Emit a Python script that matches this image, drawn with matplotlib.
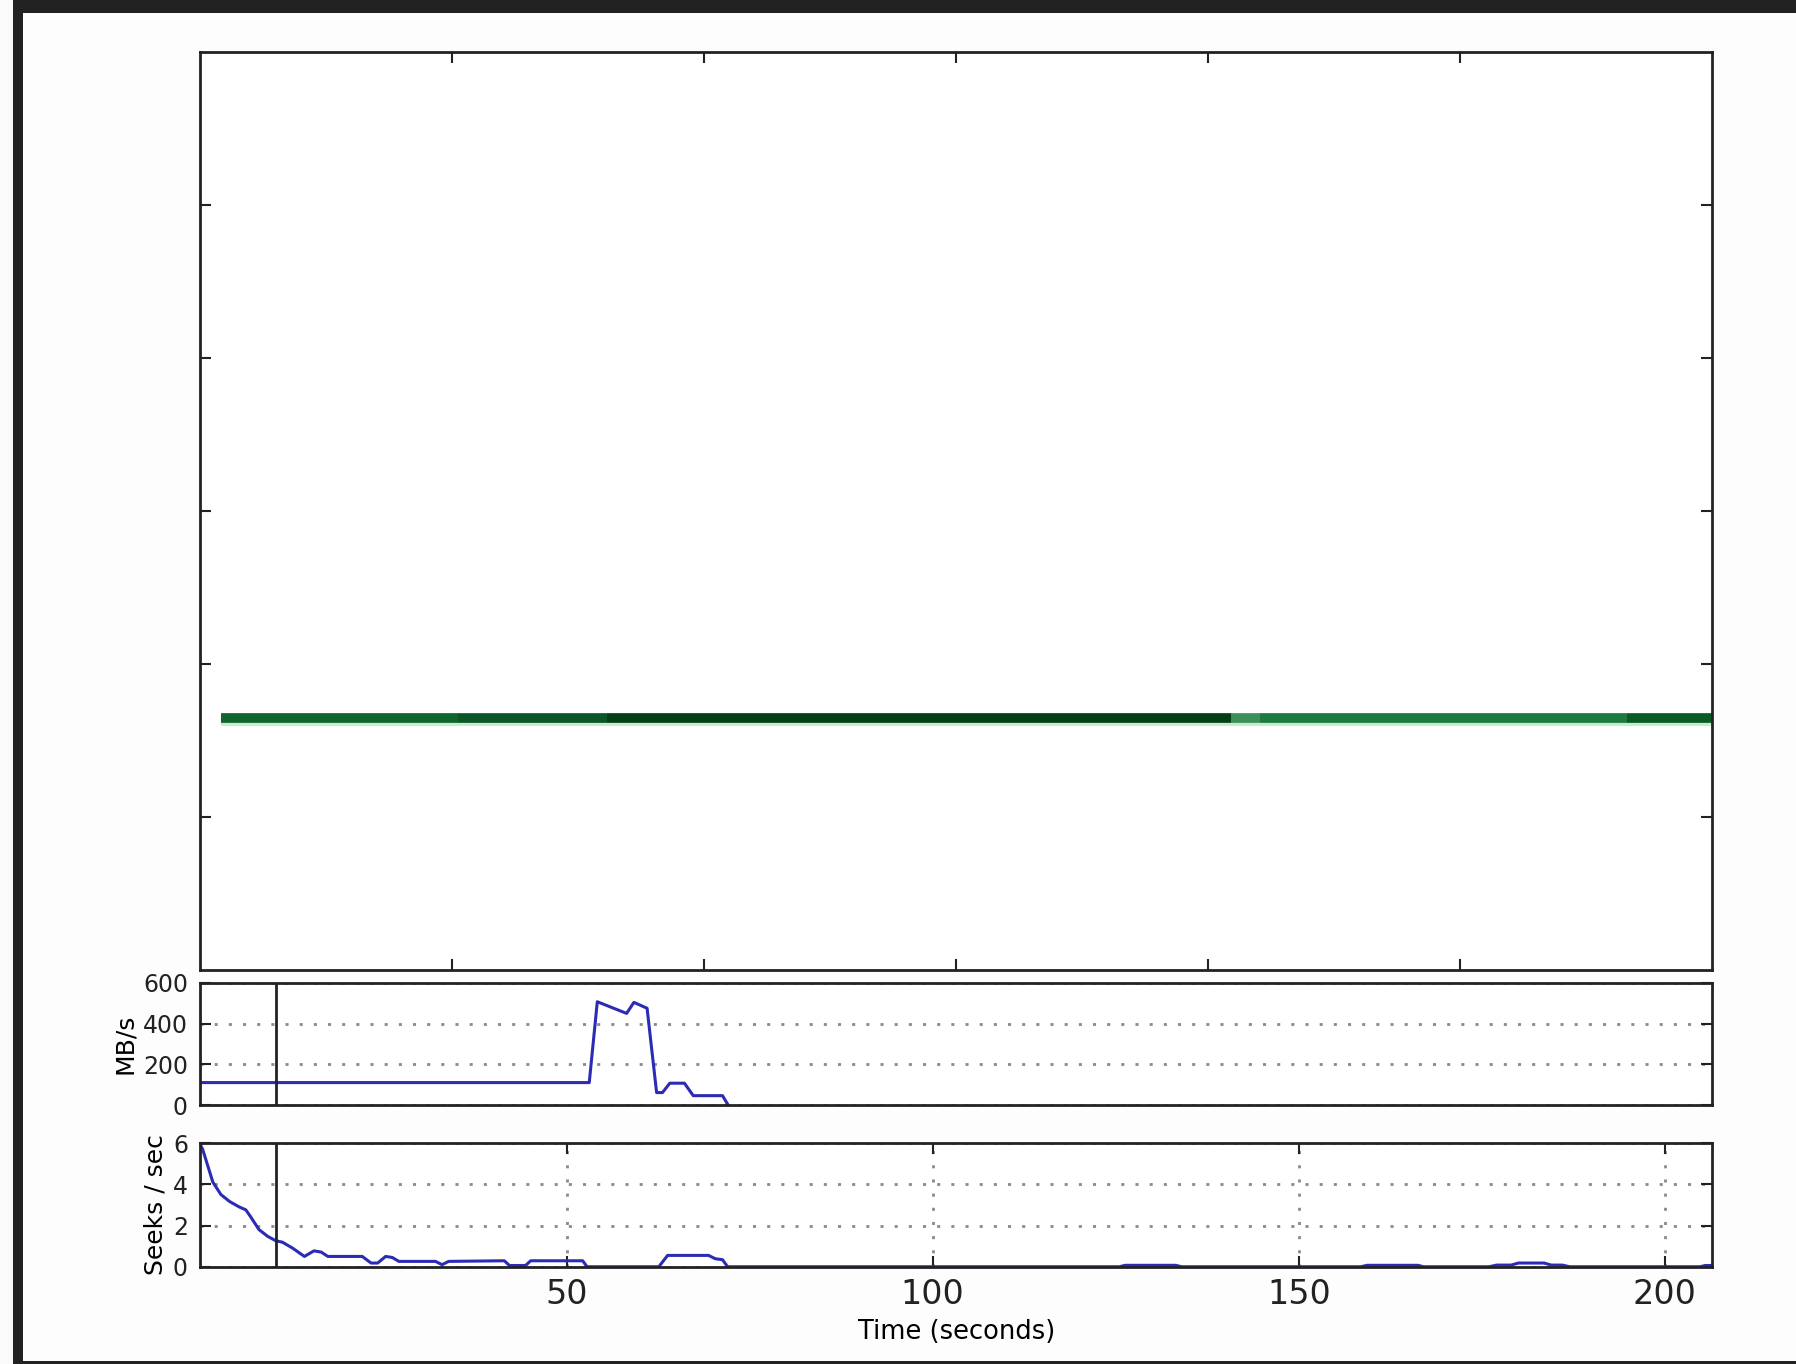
import matplotlib
matplotlib.use("Agg")
import matplotlib.pyplot as plt
from matplotlib.patches import Rectangle

# upper panel: one horizontal trace, coloured in pieces
green_level = 1.645
green_edges = [0.082, 1.023, 1.614, 4.091, 4.205, 5.659, 6.0]
green_colors = ['#10652f', '#0c5526', '#053d18', '#3d8f5a', '#1c7a3e', '#0b5a26']

# throughput (MB/s)
mb_t = [0, 53.1, 54.2, 58.2, 59.2, 61.0, 62.3, 63.1, 64.1, 66.1, 67.3, 71.3, 72.0]
mb_v = [111, 111, 507, 450, 504, 475, 62, 62, 108, 108, 47, 47, 5]

# seeks per second
seek_t = [0, 0.3, 1.7, 2.8, 4.0, 5.3, 6.2, 6.9, 8.0, 9.2, 10.3, 11.2, 12.6, 14.2,
          15.5, 16.5, 17.4, 22.1, 23.3, 24.2, 25.3, 26.2, 27.1, 32.1, 33.0, 33.9,
          41.5, 42.2, 44.4, 45.1, 52.2, 52.8, 62.6, 63.8, 69.4, 70.3, 71.3, 72.0,
          125.5, 126.3, 133.2, 134.0, 158.5, 159.3, 166.3, 167.0, 176.0, 177.0,
          179.0, 180.0, 183.5, 184.5, 186.0, 187.0, 204.8, 205.5, 206.5]
seek_v = [5.9, 5.7, 4.1, 3.5, 3.16, 2.9, 2.76, 2.4, 1.8, 1.47, 1.26, 1.19, 0.9, 0.5,
          0.77, 0.71, 0.5, 0.5, 0.18, 0.18, 0.5, 0.45, 0.26, 0.26, 0.1, 0.26,
          0.29, 0.06, 0.06, 0.29, 0.29, 0.0, 0.0, 0.55, 0.55, 0.39, 0.34, 0.0,
          0.0, 0.07, 0.07, 0.0, 0.0, 0.07, 0.07, 0.0, 0.0, 0.08,
          0.08, 0.18, 0.18, 0.08, 0.08, 0.0, 0.0, 0.06, 0.06]

cursor_t = 10.3
time_ticks = [50, 100, 150, 200]
mb_ticks = [0, 200, 400, 600]
seek_ticks = [0, 2, 4, 6]

W, H = 1796, 1364
fig = plt.figure(figsize=(W / 100, H / 100), dpi=100)
fig.patch.set_facecolor('#fafafa')

# screenshot frame
fig.add_artist(Rectangle((13 / W, 0), 1, 1, transform=fig.transFigure,
                         facecolor='#222222', edgecolor='none', zorder=-3))
fig.add_artist(Rectangle((23 / W, 3 / H), 1, 1 - 16 / H, transform=fig.transFigure,
                         facecolor='#fdfdfd', edgecolor='none', zorder=-2))

blue = '#2b2bb5'
grid_kw = dict(color='#8a8a8a', linestyle=(0, (1.1, 4)), linewidth=2)


def style(ax):
    for s in ax.spines.values():
        s.set_linewidth(2.0)
        s.set_color('#222222')
    ax.tick_params(direction='in', length=8, width=1.5, top=True, right=True,
                   colors='#222222')


left, width = 0.1116, 0.8419

ax0 = fig.add_axes([left, 0.2889, width, 0.6733])
ax0.plot([green_edges[0], green_edges[-1]], [green_level - 0.01] * 2,
         color='#c2eec9', lw=8.5, solid_capstyle='butt')
for i, c in enumerate(green_colors):
    ax0.plot(green_edges[i:i + 2], [green_level, green_level], color=c, lw=7,
             solid_capstyle='butt')
ax0.set_xlim(0, 6)
ax0.set_ylim(0, 6)
ax0.set_xticks([1, 2, 3, 4, 5])
ax0.set_yticks([1, 2, 3, 4, 5])
ax0.set_xticklabels([])
ax0.set_yticklabels([])
style(ax0)

ax1 = fig.add_axes([left, 0.1897, width, 0.0898])
ax1.plot(mb_t, mb_v, color=blue, lw=2.2)
ax1.axvline(cursor_t, color='#222222', lw=2)
ax1.set_xlim(0, 206.5)
ax1.set_ylim(0, 600)
ax1.set_xticks([])
ax1.set_yticks(mb_ticks)
ax1.yaxis.grid(True, **grid_kw)
style(ax1)
ax1.tick_params(axis='y', labelsize=17, pad=9)
ax1.set_ylabel('MB/s', fontsize=18)

ax2 = fig.add_axes([left, 0.0713, width, 0.0907])
ax2.plot(seek_t, seek_v, color=blue, lw=2.2)
ax2.axvline(cursor_t, color='#222222', lw=2)
ax2.set_xlim(0, 206.5)
ax2.set_ylim(0, 6)
ax2.set_xticks(time_ticks)
ax2.set_yticks(seek_ticks)
ax2.grid(True, **grid_kw)
style(ax2)
ax2.tick_params(axis='y', labelsize=17, pad=9)
ax2.tick_params(axis='x', labelsize=24, pad=8)
ax2.set_ylabel('Seeks / sec', fontsize=18)
ax2.set_xlabel('Time (seconds)', fontsize=18.5, labelpad=6)

fig.savefig('out.png', dpi=100, facecolor=fig.get_facecolor())
